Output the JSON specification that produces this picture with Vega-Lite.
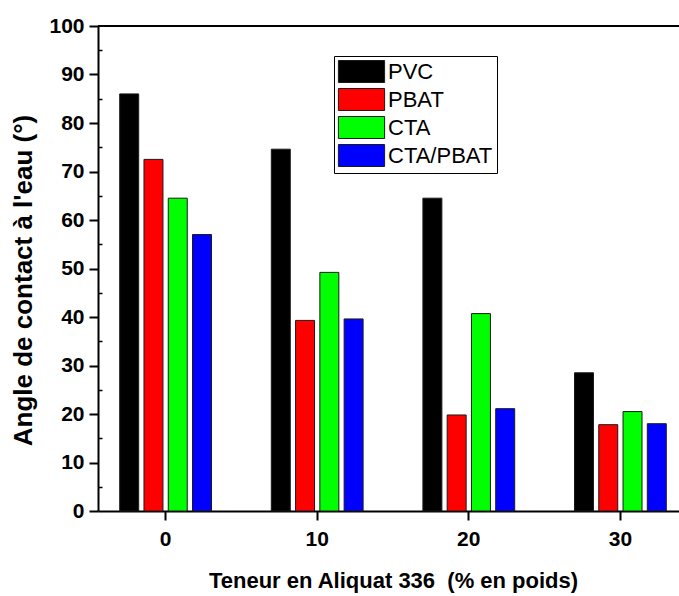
{
  "$schema": "https://vega.github.io/schema/vega-lite/v6.json",
  "width": 590,
  "height": 485,
  "autosize": {"type": "none"},
  "padding": {"left": 98, "top": 26, "right": -9, "bottom": 85},
  "background": "white",
  "config": {"view": {"stroke": null}, "font": "Liberation Sans"},
  "data": {
    "values": [
      {"content": 0, "series": "PVC", "angle": 86.0},
      {"content": 0, "series": "PBAT", "angle": 72.5},
      {"content": 0, "series": "CTA", "angle": 64.5},
      {"content": 0, "series": "CTA/PBAT", "angle": 57.0},
      {"content": 10, "series": "PVC", "angle": 74.6},
      {"content": 10, "series": "PBAT", "angle": 39.3},
      {"content": 10, "series": "CTA", "angle": 49.2},
      {"content": 10, "series": "CTA/PBAT", "angle": 39.6},
      {"content": 20, "series": "PVC", "angle": 64.5},
      {"content": 20, "series": "PBAT", "angle": 19.8},
      {"content": 20, "series": "CTA", "angle": 40.7},
      {"content": 20, "series": "CTA/PBAT", "angle": 21.1},
      {"content": 30, "series": "PVC", "angle": 28.5},
      {"content": 30, "series": "PBAT", "angle": 17.8},
      {"content": 30, "series": "CTA", "angle": 20.5},
      {"content": 30, "series": "CTA/PBAT", "angle": 18.0}
    ]
  },
  "layer": [
    {
      "mark": {"type": "bar", "stroke": "#1a1a1a", "strokeWidth": 1},
      "encoding": {
        "x": {
          "field": "content",
          "type": "ordinal",
          "sort": [0, 10, 20, 30],
          "scale": {"paddingInner": 0.2, "paddingOuter": 0.046},
          "axis": {
            "title": "Teneur en Aliquat 336 \u00a0(% en poids)",
            "labelAngle": 0,
            "labelFont": "Liberation Sans",
            "labelFontWeight": "bold",
            "labelFontSize": 21,
            "labelColor": "black",
            "labelPadding": 8,
            "tickSize": 9,
            "tickWidth": 2,
            "tickColor": "black",
            "domainColor": "black",
            "domainWidth": 2,
            "titleFont": "Liberation Sans",
            "titleFontSize": 22,
            "titleFontWeight": "bold",
            "titleColor": "black",
            "titlePadding": 21
          }
        },
        "xOffset": {
          "field": "series",
          "type": "nominal",
          "sort": ["PVC", "PBAT", "CTA", "CTA/PBAT"],
          "scale": {"paddingInner": 0.218, "paddingOuter": 0.607}
        },
        "y": {
          "field": "angle",
          "type": "quantitative",
          "scale": {"domain": [0, 100], "nice": false},
          "axis": {
            "title": "Angle de contact à l'eau (°)",
            "values": [0, 10, 20, 30, 40, 50, 60, 70, 80, 90, 100],
            "grid": false,
            "labelFont": "Liberation Sans",
            "labelFontWeight": "bold",
            "labelFontSize": 21,
            "labelColor": "black",
            "labelPadding": 5,
            "tickSize": 9,
            "tickWidth": 2,
            "tickColor": "black",
            "domainColor": "black",
            "domainWidth": 2,
            "titleFont": "Liberation Sans",
            "titleFontSize": 26,
            "titleFontWeight": "bold",
            "titleColor": "black",
            "titlePadding": 12,
            "titleY": 254
          }
        },
        "color": {
          "field": "series",
          "type": "nominal",
          "sort": ["PVC", "PBAT", "CTA", "CTA/PBAT"],
          "scale": {
            "domain": ["PVC", "PBAT", "CTA", "CTA/PBAT"],
            "range": ["#000000", "#ff0000", "#00ff00", "#0000ff"]
          },
          "legend": {
            "orient": "none",
            "legendX": 236,
            "legendY": 30,
            "title": null,
            "strokeColor": "black",
            "fillColor": "white",
            "padding": 4,
            "symbolType": "M-2.1,-1H2.1V1H-2.1Z",
            "symbolSize": 484,
            "symbolStrokeColor": "#1a1a1a",
            "symbolStrokeWidth": 1,
            "symbolOpacity": 1,
            "symbolOffset": 12,
            "labelOffset": 15,
            "labelFont": "Liberation Sans",
            "labelFontSize": 22,
            "labelColor": "black",
            "rowPadding": 1
          }
        }
      }
    },
    {
      "data": {"values": [{"top": 100}]},
      "mark": {"type": "rule", "color": "black", "strokeWidth": 2},
      "encoding": {
        "y": {
          "field": "top",
          "type": "quantitative",
          "axis": {
            "orient": "left",
            "values": [5, 15, 25, 35, 45, 55, 65, 75, 85, 95],
            "labels": false,
            "domain": false,
            "tickSize": -4,
            "tickWidth": 1.5,
            "tickColor": "black",
            "title": null,
            "grid": false
          }
        }
      }
    }
  ],
  "resolve": {"axis": {"y": "independent"}}
}
